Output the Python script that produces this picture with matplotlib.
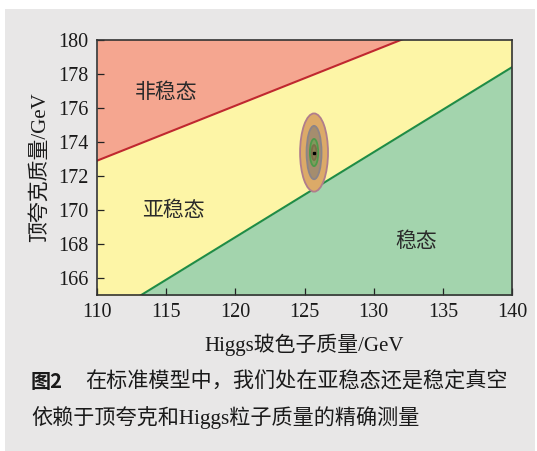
import numpy as np
import matplotlib
matplotlib.use("Agg")
import matplotlib.pyplot as plt
from matplotlib.patches import Ellipse, Rectangle

# boundary lines (GeV), extended past the axes
unstable_x = [110.0, 140.0]
unstable_y = [172.9, 182.6]
stable_x = [110.0, 140.0]
stable_y = [163.4, 178.4]

# measurement blob: centre and nested half-widths (Higgs, top)
blob_center = (125.69, 173.38)
blob_half_x = [1.01, 0.54, 0.30, 0.17]
blob_half_y = [2.30, 1.57, 0.80, 0.44]
blob_fill = ["#dcaa68", "#a58d6e", "#7f9a5c", "#8a7f52"]
blob_edge = ["#b07d8c", "#8c8488", "#4f9a4a", "#7a7048"]

region_labels = ["非稳态", "亚稳态", "稳态"]
label_x = [115.0, 115.5, 133.1]
label_y = [176.95, 170.0, 168.15]

x_ticks = [110, 115, 120, 125, 130, 135, 140]
y_ticks = [166, 168, 170, 172, 174, 176, 178, 180]

MIX = ["Liberation Serif", "Noto Sans CJK SC"]
CJK = ["Noto Sans CJK SC", "DejaVu Sans"]

fig = plt.figure(figsize=(5.37, 4.51), dpi=100)
fig.patch.set_facecolor("white")
fig.patches.append(Rectangle((5 / 537, 0), 530 / 537, 442 / 451,
                             transform=fig.transFigure, facecolor="#e8e7e7",
                             edgecolor="none", zorder=-10))

ax = fig.add_axes([97 / 537, 1 - 295 / 451, 415 / 537, 255 / 451])

xs = np.linspace(110, 140, 200)
top = np.interp(xs, unstable_x, unstable_y)
bot = np.interp(xs, stable_x, stable_y)
ax.fill_between(xs, top, 185, color="#f5a690", lw=0)
ax.fill_between(xs, bot, top, color="#fdf5a6", lw=0)
ax.fill_between(xs, 160, bot, color="#a3d4ad", lw=0)
ax.plot(unstable_x, unstable_y, color="#c0282f", lw=1.5)
ax.plot(stable_x, stable_y, color="#1f8c46", lw=1.5)

for hx, hy, fc, ec in zip(blob_half_x, blob_half_y, blob_fill, blob_edge):
    ax.add_patch(Ellipse(blob_center, 2 * hx, 2 * hy, facecolor=fc,
                         edgecolor=ec, lw=1.3, zorder=3))
ax.plot(*blob_center, "s", color="black", ms=2, zorder=4)

for txt, lx, ly in zip(region_labels, label_x, label_y):
    ax.text(lx, ly, txt, family=CJK, fontsize=15, color="#2a2a2a",
            ha="center", va="center")

ax.set_xlim(110, 140)
ax.set_ylim(165, 180)
ax.set_xticks(x_ticks)
ax.set_yticks(y_ticks)
ax.tick_params(direction="in", length=5, width=0.9, color="#222",
               labelsize=14.5, pad=6)
for lab in ax.get_xticklabels() + ax.get_yticklabels():
    lab.set_family("Liberation Serif")
    lab.set_color("#1a1a1a")
for sp in ax.spines.values():
    sp.set_color("#333")
    sp.set_linewidth(1.2)

ax.set_xlabel("Higgs玻色子质量/GeV", family=MIX, fontsize=15,
              color="#1a1a1a", labelpad=8)
ax.set_ylabel("顶夸克质量/GeV", family=MIX, fontsize=15,
              color="#1a1a1a", labelpad=6)

fig.text(31 / 537, 1 - 382 / 451, "图2", family=CJK, fontsize=14.5,
         fontweight="bold", color="#1a1a1a", va="center")
fig.text(85 / 537, 1 - 382 / 451, "在标准模型中，我们处在亚稳态还是稳定真空",
         family=MIX, fontsize=15.2, color="#1a1a1a", va="center")
fig.text(31 / 537, 1 - 418 / 451, "依赖于顶夸克和Higgs粒子质量的精确测量",
         family=MIX, fontsize=15.2, color="#1a1a1a", va="center")

fig.savefig("out.png", dpi=100)
